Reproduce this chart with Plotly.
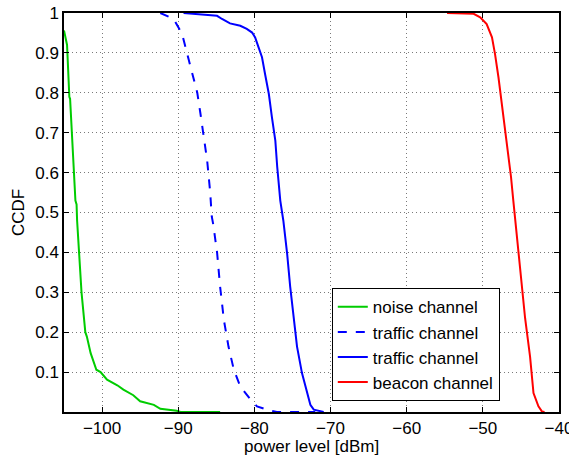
import plotly.graph_objects as go

noise_x = [-105.0, -104.6, -104.3, -104.2, -103.5, -103.35, -103.28, -103.0, -102.7, -102.2, -102.0,
           -101.5, -100.75, -100.2, -99.35, -98.0, -97.2, -95.9, -95.0, -93.2, -92.35, -90.2, -89.7, -84.5]
noise_y = [0.956, 0.92, 0.79, 0.785, 0.53, 0.52, 0.48, 0.397, 0.30, 0.20, 0.189,
           0.1475, 0.106, 0.10, 0.081, 0.067, 0.056, 0.042, 0.027, 0.018, 0.008, 0.003, 0.0, 0.0]

traffic_d_x = [-92.35, -90.6, -89.5, -88.85, -88.2, -87.5, -87.1, -86.7, -86.2, -85.8, -85.6, -85.4,
               -84.9, -84.5, -84.0, -83.4, -82.7, -81.85, -80.5, -79.65, -78.35, -77.05, -72.0]
traffic_d_y = [1.0, 0.985, 0.948, 0.9, 0.855, 0.80, 0.75, 0.70, 0.63, 0.55, 0.49, 0.47,
               0.40, 0.314, 0.23, 0.164, 0.106, 0.064, 0.031, 0.014, 0.006, 0.0, 0.0]

traffic_s_x = [-89.3, -84.9, -84.25, -83.2, -81.85, -81.0, -80.3, -79.9, -79.45, -79.0, -78.6, -78.1,
               -77.7, -77.25, -77.0, -76.6, -76.2, -75.7, -75.3, -74.85, -74.4, -73.75, -73.1, -72.65,
               -72.2, -70.9]
traffic_s_y = [1.0, 0.993, 0.985, 0.974, 0.968, 0.96, 0.951, 0.939, 0.914, 0.889, 0.847, 0.797,
               0.739, 0.68, 0.614, 0.53, 0.48, 0.397, 0.314, 0.23, 0.164, 0.0975, 0.0475, 0.018,
               0.006, 0.0]

beacon_x = [-54.7, -51.2, -50.35, -49.5, -48.8, -48.4, -47.95, -47.6, -47.1, -46.65, -46.3, -46.0,
            -45.55, -45.1, -44.97, -44.7, -44.45, -43.8, -43.35, -42.7, -42.25, -41.9]
beacon_y = [1.0, 0.998, 0.989, 0.972, 0.939, 0.897, 0.839, 0.789, 0.714, 0.647, 0.589, 0.53,
            0.4475, 0.364, 0.33, 0.28, 0.235, 0.139, 0.0475, 0.014, 0.0015, 0.0]

x_ticks = [-100, -90, -80, -70, -60, -50, -40]
y_ticks = [0.1, 0.2, 0.3, 0.4, 0.5, 0.6, 0.7, 0.8, 0.9, 1]

FONT = "Liberation Sans, Arial, Helvetica, sans-serif"

fig = go.Figure()
fig.add_trace(go.Scatter(x=noise_x, y=noise_y, mode="lines", name="noise channel",
                         line=dict(color="#00cc00", width=2)))
fig.add_trace(go.Scatter(x=traffic_d_x, y=traffic_d_y, mode="lines", name="traffic channel",
                         line=dict(color="#0000ff", width=2, dash="dash")))
fig.add_trace(go.Scatter(x=traffic_s_x, y=traffic_s_y, mode="lines", name="traffic channel",
                         line=dict(color="#0000ff", width=2)))
fig.add_trace(go.Scatter(x=beacon_x, y=beacon_y, mode="lines", name="beacon channel",
                         line=dict(color="#ff0000", width=2)))

axis_common = dict(
    showline=True, linecolor="black", linewidth=1.5, mirror="ticks",
    ticks="inside", ticklen=5, tickcolor="black", tickwidth=1,
    showgrid=True, gridcolor="#7a7a7a", griddash="1px,3px", gridwidth=1,
    zeroline=False, tickfont=dict(size=17, color="black", family=FONT),
    automargin=False, ticklabeloverflow="allow",
)

fig.update_xaxes(range=[-105, -40], tickvals=x_ticks, ticklabelstandoff=0, **axis_common)
fig.update_yaxes(range=[0, 1], tickvals=y_ticks, ticklabelstandoff=0,
                 title=dict(text="CCDF", font=dict(size=17, color="black", family=FONT), standoff=6),
                 **axis_common)

fig.add_annotation(text="power level [dBm]", xref="paper", yref="paper", x=0.5, y=0,
                   xanchor="center", yanchor="top", yshift=-23, showarrow=False,
                   font=dict(size=17, color="black", family=FONT))

fig.update_layout(
    width=569, height=457,
    margin=dict(l=64, r=10, t=13, b=45),
    plot_bgcolor="white", paper_bgcolor="white",
    font=dict(family=FONT, size=17, color="black"),
    legend=dict(x=0.541, y=0.027, xanchor="left", yanchor="bottom",
                bgcolor="white", bordercolor="black", borderwidth=1,
                font=dict(size=17, family=FONT), itemwidth=30, tracegroupgap=0),
    showlegend=True,
)

fig.write_html("out.html", config={"displayModeBar": False},
               post_script="document.body.style.margin='0';document.body.style.overflow='hidden';")
